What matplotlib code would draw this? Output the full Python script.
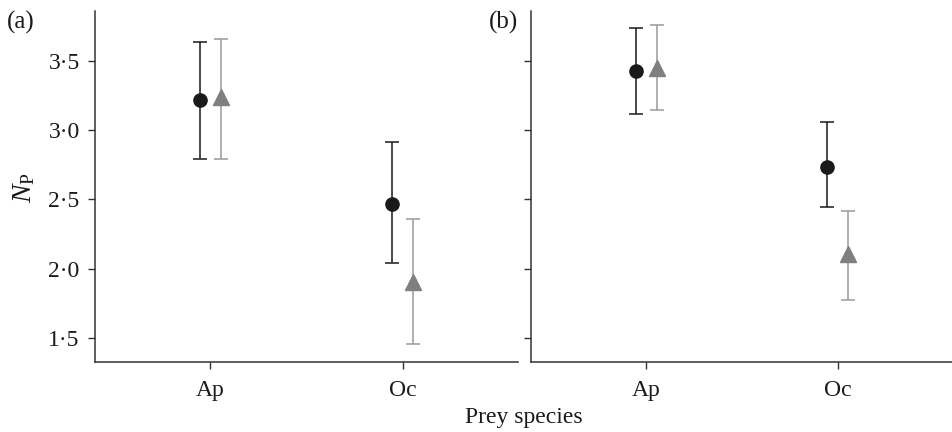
import numpy as np
import matplotlib.pyplot as plt

plt.rcParams['font.family'] = 'Liberation Serif'
plt.rcParams['mathtext.fontset'] = 'custom'
plt.rcParams['mathtext.rm'] = 'Liberation Serif'
plt.rcParams['mathtext.it'] = 'Liberation Serif:italic'

# prey species on the x axis
species = ['Ap', 'Oc']
panels = ['(a)', '(b)']

# panel (a): black circles
a_circle = [3.22, 2.465]
a_circle_lo = [2.795, 2.04]
a_circle_hi = [3.64, 2.915]
# panel (a): grey triangles
a_tri = [3.24, 1.905]
a_tri_lo = [2.795, 1.46]
a_tri_hi = [3.66, 2.36]

# panel (b): black circles
b_circle = [3.43, 2.737]
b_circle_lo = [3.12, 2.445]
b_circle_hi = [3.736, 3.06]
# panel (b): grey triangles
b_tri = [3.45, 2.11]
b_tri_lo = [3.146, 1.775]
b_tri_hi = [3.76, 2.42]

yticks = [1.5, 2.0, 2.5, 3.0, 3.5]
ytick_labels = ['1·5', '2·0', '2·5', '3·0', '3·5']

black = '#1a1a1a'
grey_bar = '#9a9a9a'
grey_mark = '#7f7f7f'
axis_col = '#333333'

fig = plt.figure(figsize=(9.53, 4.32), dpi=100)
ax_a = fig.add_axes([0.0997, 0.162, 0.4439, 0.8125])
ax_b = fig.add_axes([0.5572, 0.162, 0.4428, 0.8125])

data = [
    (ax_a, a_circle, a_circle_lo, a_circle_hi, a_tri, a_tri_lo, a_tri_hi),
    (ax_b, b_circle, b_circle_lo, b_circle_hi, b_tri, b_tri_lo, b_tri_hi),
]

x = np.arange(1, len(species) + 1)
dodge = 0.055

for i, (ax, c, clo, chi, t, tlo, thi) in enumerate(data):
    c = np.array(c); t = np.array(t)
    c_err = [c - np.array(clo), np.array(chi) - c]
    t_err = [t - np.array(tlo), np.array(thi) - t]
    ax.errorbar(x - dodge, c, yerr=c_err, fmt='none', ecolor=black,
                elinewidth=1.1, capsize=5, capthick=1.1)
    ax.plot(x - dodge, c, 'o', color=black, markersize=9.5, zorder=3)
    ax.errorbar(x + dodge, t, yerr=t_err, fmt='none', ecolor=grey_bar,
                elinewidth=1.1, capsize=5, capthick=1.1)
    ax.plot(x + dodge, t, '^', color=grey_mark, markersize=11.5, zorder=3)

    ax.set_xlim(0.4, 2.6)
    ax.set_ylim(1.327, 3.86)
    ax.set_xticks(x)
    ax.set_xticklabels(species, fontsize=17)
    ax.set_yticks(yticks)
    if i == 0:
        ax.set_yticklabels(ytick_labels, fontsize=17)
    else:
        ax.set_yticklabels([])
    for s in ['top', 'right']:
        ax.spines[s].set_visible(False)
    for s in ['left', 'bottom']:
        ax.spines[s].set_color(axis_col)
        ax.spines[s].set_linewidth(1.1)
    ax.tick_params(direction='out', length=5, width=1.0, colors=axis_col,
                   labelcolor='#1a1a1a')
    ax.tick_params(axis='x', pad=8)
    ax.tick_params(axis='y', pad=6)

fig.text(24 / 953, 1 - 188 / 432, r'$N_\mathrm{P}$', fontsize=20, rotation=90,
         ha='center', va='center', color='#1a1a1a')

fig.text(21 / 953, 1 - 22 / 432, '(a)', fontsize=18, ha='center', va='center', color='#1a1a1a')
fig.text(504 / 953, 1 - 22 / 432, '(b)', fontsize=18, ha='center', va='center', color='#1a1a1a')
fig.text(524 / 953, 1 - 417 / 432, 'Prey species', fontsize=17, ha='center', va='center', color='#1a1a1a')

fig.savefig('out.png', dpi=100)
